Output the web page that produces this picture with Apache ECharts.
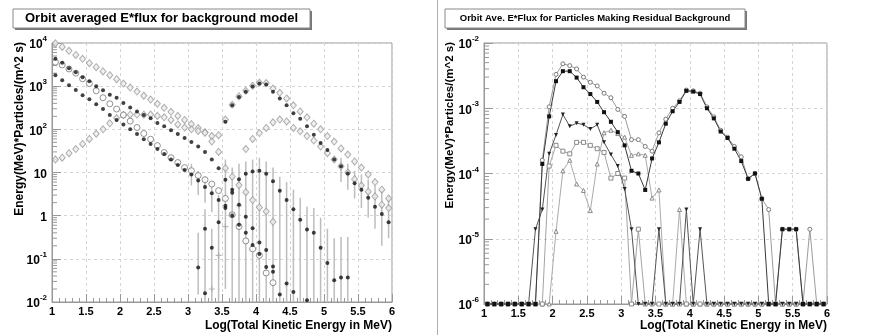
<!DOCTYPE html>
<html>
<head>
<meta charset="utf-8">
<script src="https://cdn.jsdelivr.net/npm/echarts@6/dist/echarts.min.js"></script>
<style>
  html, body { margin: 0; padding: 0; background: #fff; }
  #chart { width: 872px; height: 335px; }
</style>
</head>
<body>
<div id="chart"></div>
<script>
// bin centres, log10(total kinetic energy / MeV), 0.1 wide
const binCenters = [
  1.05, 1.15, 1.25, 1.35, 1.45, 1.55, 1.65, 1.75, 1.85, 1.95,
  2.05, 2.15, 2.25, 2.35, 2.45, 2.55, 2.65, 2.75, 2.85, 2.95,
  3.05, 3.15, 3.25, 3.35, 3.45, 3.55, 3.65, 3.75, 3.85, 3.95,
  4.05, 4.15, 4.25, 4.35, 4.45, 4.55, 4.65, 4.75, 4.85, 4.95,
  5.05, 5.15, 5.25, 5.35, 5.45, 5.55, 5.65, 5.75, 5.85, 5.95
];
const _ = null;

// ---- left pad : orbit averaged E*flux for background model ----
// grey open diamonds (total)
const bgTotal = [
  9800, 8100, 6600, 5300, 4300, 3400, 2750, 2200, 1800, 1450,
  1150, 930, 750, 600, 490, 390, 315, 255, 205, 165,
  132, 107, 86, 70, 73, 168, 370, 580, 780, 1020,
  1200, 1180, 880, 700, 520, 360, 260, 190, 135, 100,
  70, 52, 36, 26, 18, 13, 9, 6, 4, 2.5
];
// black dots, upper straight line
const bgBlackHigh = [
  4300, 3500, 2600, 2100, 1600, 1300, 1000, 800, 630, 540,
  410, 320, 260, 215, 180, 140, 118, 95, 78, 63,
  51, 40, 30, 20, 12.5, 6.8, 4, 1.8, 0.95, 0.51,
  0.24, 0.16, 0.066, 0.015, _, _, _, _, _, _,
  _, _, _, _, _, _, _, _, _, _
];
// black dots, lower straight line
const bgBlackLow = [
  1780, 1380, 1050, 810, 620, 500, 380, 295, 215, 165,
  130, 100, 78, 59, 46, 35, 27, 20, 15, 11.5,
  9, 6.5, 4.6, 3.3, 2.3, 1.7, 1.0, 0.62, 0.4, 0.21,
  0.13, 0.065, 0.05, _, _, _, _, _, _, _,
  _, _, _, _, _, _, _, _, _, _
];
// open circles
const bgCircle = [
  3600, 3100, 2500, 2000, 1480, 1150, 780, 540, 390, 295,
  215, 155, 110, 80, 59, 42, 29, 22, 17, 13,
  11, 8.5, 6.8, 5.4, 3.8, 2.5, 1.05, 0.56, 0.26, 0.17,
  0.12, 0.047, 0.028, _, _, _, _, _, _, _,
  _, _, _, _, _, _, _, _, _, _
];
// grey diamonds, rising then falling
const bgRise = [
  20, 22, 28, 35, 46, 60, 79, 100, 138, 182,
  215, 218, 220, 218, 220, 205, 190, 165, 130, 110,
  100, 92, 83, 52, 30, 12.6, 8, 5.1, 3.5, 2.3,
  1.55, 1.25, 0.72, _, _, _, _, _, _, _,
  _, _, _, _, _, _, _, _, _, _
];
// black dots, peak near 10^4 MeV
const bgPeak = [
  _, _, _, _, _, _, _, _, _, _,
  _, _, _, _, _, _, _, _, _, _,
  _, _, _, _, _, 150, 360, 560, 740, 980,
  1150, 1100, 740, 520, 360, 235, 175, 118, 75, 48,
  33, 20, 14, 9.5, 5.6, 4.0, 2.6, 1.6, 1.1, 0.7
];
// grey diamonds, second peak
const bgPeak2 = [
  _, _, _, _, _, _, _, _, _, _,
  _, _, _, _, _, _, _, _, _, _,
  _, _, _, _, _, _, _, _, 35, 60,
  82, 108, 145, 168, 152, 108, 90, 70, 55, 40,
  28, 20, 14, 10, 7, 5, 3.6, 2.8, 1.8, 1.5
];
// black dots with large errors
const bgHump = [
  _, _, _, _, _, _, _, _, _, _,
  _, _, _, _, _, _, _, _, _, _,
  _, 0.063, 0.5, 0.18, 0.7, 1.5, 3.4, 7, 9.3, 10.5,
  11, 9.3, 6.3, 3.8, 2.3, 1.4, 0.8, 0.48, 0.4, 0.18,
  0.08, 0.032, 0.037, 0.037, _, _, _, _, _, _
];
const bgSparse = [
  _, _, _, _, _, _, _, _, _, _,
  _, _, _, _, _, _, _, _, _, _,
  _, _, 0.016, _, _, _, _, _, _, _,
  _, _, _, _, 0.027, 0.017, _, 0.011, _, _,
  _, _, _, _, _, _, _, _, _, _
];
const bgCross = [
  _, _, _, _, _, _, _, _, _, _,
  _, _, _, _, _, _, _, _, _, _,
  _, _, _, 0.02, 0.12, 0.56, 1.1, 1.7, _, _,
  _, _, _, _, _, _, _, _, _, _,
  _, _, _, _, _, _, _, _, _, _
];
// grey error bars: [x, low, high]
const bgErrors = [
  [3.05, 5, 16], [3.15, 3, 11], [3.25, 2, 8], [3.35, 1.2, 6],
  [3.15, 0.015, 0.4], [3.25, 0.01, 1.4], [3.35, 0.01, 0.5], [3.45, 0.01, 3],
  [3.55, 0.02, 20], [3.65, 0.01, 13], [3.75, 0.01, 16], [3.85, 0.01, 18],
  [3.95, 0.01, 20], [4.05, 0.01, 22], [4.15, 0.01, 18], [4.25, 0.01, 13],
  [4.35, 0.01, 8], [4.45, 0.01, 6], [4.55, 0.01, 4], [4.65, 0.01, 2.6],
  [4.75, 0.01, 1.6], [4.85, 0.01, 1.5], [4.95, 0.01, 0.9], [5.05, 0.01, 0.5],
  [5.15, 0.01, 0.3], [5.25, 0.01, 0.32], [5.35, 0.01, 0.32],
  [5.25, 6, 22], [5.35, 4, 16], [5.45, 2.5, 11], [5.55, 1.5, 9],
  [5.65, 0.9, 7], [5.75, 0.5, 5], [5.85, 0.2, 4], [5.95, 0.3, 3]
];

// ---- right pad : particles making residual background (0 = empty bin) ----
const resTotal = [
  0, 0, 0, 0, 0, 0, 0, 0, 1.6e-4, 1.05e-3,
  3.3e-3, 4.8e-3, 4.5e-3, 4.0e-3, 3.0e-3, 2.5e-3, 2.2e-3, 1.7e-3, 1.45e-3, 9.6e-4,
  7.5e-4, 3.3e-4, 3.3e-4, 2.6e-4, 2.2e-4, 4.2e-4, 6.8e-4, 1.0e-3, 1.3e-3, 1.9e-3,
  1.85e-3, 1.7e-3, 1.05e-3, 7.4e-4, 4.6e-4, 3.6e-4, 2.6e-4, 1.8e-4, 8.3e-5, 1.0e-4,
  4.1e-5, 2.8e-5, 0, 1.4e-5, 1.4e-5, 1.4e-5, 0, 1.4e-5, 0, 0
];
const resSquareBlack = [
  0, 0, 0, 0, 0, 0, 0, 0, 1.4e-4, 7.5e-4,
  2.6e-3, 3.7e-3, 3.7e-3, 2.95e-3, 2.1e-3, 1.65e-3, 1.25e-3, 8.7e-4, 6.2e-4, 4.3e-4,
  2.7e-4, 1.1e-4, 1.0e-4, 5.6e-5, 1.7e-4, 3.0e-4, 5.8e-4, 9.0e-4, 1.25e-3, 1.85e-3,
  1.8e-3, 1.65e-3, 1.0e-3, 7.0e-4, 4.4e-4, 3.5e-4, 2.4e-4, 1.55e-4, 8.3e-5, 1.0e-4,
  4.1e-5, 0, 0, 1.4e-5, 1.4e-5, 1.4e-5, 0, 0, 0, 0
];
const resTriDown = [
  0, 0, 0, 0, 0, 0, 0, 1.4e-5, 2.8e-5, 2.0e-4,
  3.9e-4, 8.0e-4, 5.3e-4, 5.9e-4, 5.6e-4, 4.8e-4, 5.6e-4, 3.0e-4, 1.95e-4, 1.3e-4,
  5.8e-5, 1.4e-5, 0, 0, 0, 1.4e-5, 0, 0, 0, 2.8e-5,
  0, 1.4e-5, 0, 0, 0, 0, 0, 0, 0, 0,
  0, 0, 0, 0, 0, 0, 0, 0, 0, 0
];
const resSquareOpen = [
  0, 0, 0, 0, 0, 0, 0, 0, 0, 1.3e-4,
  2.7e-4, 2.2e-4, 2.0e-4, 3.0e-4, 3.0e-4, 2.7e-4, 2.4e-4, 2.1e-4, 8.5e-5, 1.0e-4,
  8.5e-5, 0, 1.4e-5, 0, 0, 0, 0, 0, 0, 0,
  0, 0, 0, 0, 0, 0, 0, 0, 0, 0,
  0, 0, 0, 0, 0, 0, 0, 0, 0, 0
];
const resTriUp = [
  0, 0, 0, 0, 0, 0, 0, 0, 0, 0,
  1.3e-5, 1.1e-4, 1.6e-4, 6.9e-5, 5.5e-5, 2.7e-5, 1.4e-4, 4.2e-4, 4.6e-4, 4.1e-4,
  3.6e-4, 1.9e-4, 2.0e-4, 1.9e-4, 4.2e-5, 5.6e-5, 0, 0, 2.8e-5, 0,
  0, 0, 0, 0, 0, 0, 0, 0, 0, 0,
  0, 0, 0, 0, 0, 0, 0, 0, 0, 0
];

const FONT = '"Liberation Sans", Arial, Helvetica, sans-serif';
const LEFT_MIN = 1e-2, LEFT_MAX = 1e4;
const RIGHT_MIN = 1e-6, RIGHT_MAX = 1e-2;

const pts = (arr) => binCenters.map((x, i) => [x, arr[i]]).filter(p => p[1] != null);
// empty bins sit on the bottom of the log axis, as ROOT draws them
const floorPts = (arr) => binCenters.map((x, i) => [x, arr[i] > 0 ? arr[i] : RIGHT_MIN]);

// minor ticks 2..9 in every decade
function minorTickValues(lo, hi) {
  const out = [];
  for (let d = lo; d < hi; d *= 10) {
    for (let m = 2; m <= 9; m++) out.push([1, m * d]);
  }
  return out;
}

function powLabel(v) {
  const e = Math.round(Math.log10(v));
  if (e === 0) return '{b|1}';
  if (e === 1) return '{b|10}';
  return '{b|10}{s|' + e + '}';
}

const labelRich = {
  b: { fontFamily: FONT, fontWeight: 'bold', fontSize: 12, color: '#000', lineHeight: 16, verticalAlign: 'bottom' },
  s: { fontFamily: FONT, fontWeight: 'bold', fontSize: 8, color: '#000', lineHeight: 9, verticalAlign: 'top' }
};

function xAxisFor(idx) {
  return {
    gridIndex: idx, type: 'value', min: 1, max: 6, interval: 0.5,
    axisLine: { show: true, lineStyle: { color: '#999', width: 1 } },
    axisTick: { show: true, inside: true, length: 8, lineStyle: { color: '#999' } },
    minorTick: { show: true, splitNumber: 5, length: 4, lineStyle: { color: '#999' } },
    splitLine: { show: true, lineStyle: { color: '#d4d4d4', type: [3, 3] } },
    axisLabel: {
      fontFamily: FONT, fontWeight: 'bold', fontSize: 11, color: '#000', margin: 4,
      formatter: (v) => String(v)
    }
  };
}

function yAxisFor(idx, min, max) {
  return {
    gridIndex: idx, type: 'log', logBase: 10, min: min, max: max,
    axisLine: { show: true, lineStyle: { color: '#999', width: 1 } },
    axisTick: { show: true, inside: true, length: 9, lineStyle: { color: '#999' } },
    splitLine: { show: true, lineStyle: { color: '#d4d4d4', type: [3, 3] } },
    axisLabel: { margin: 5, formatter: powLabel, rich: labelRich }
  };
}

function minorTickSeries(idx, lo, hi) {
  return {
    type: 'custom', xAxisIndex: idx, yAxisIndex: idx, silent: true, z: 1,
    data: minorTickValues(lo, hi),
    renderItem: (params, api) => {
      const p = api.coord([1, api.value(1)]);
      return { type: 'line', shape: { x1: p[0], y1: p[1], x2: p[0] + 5, y2: p[1] },
               style: { stroke: '#999', lineWidth: 1 } };
    }
  };
}

function leftScatter(arr, symbol, size, fill, stroke, z) {
  return {
    type: 'scatter', xAxisIndex: 0, yAxisIndex: 0, data: pts(arr),
    symbol: symbol, symbolSize: size, z: z || 3,
    itemStyle: { color: fill, borderColor: stroke, borderWidth: stroke ? 1 : 0 }
  };
}

function rightLine(arr, symbol, size, fill, stroke, lineColor, extra) {
  return Object.assign({
    type: 'line', xAxisIndex: 1, yAxisIndex: 1, data: floorPts(arr),
    symbol: symbol, symbolSize: size, showAllSymbol: true, clip: false,
    lineStyle: { color: lineColor, width: 1 },
    itemStyle: { color: fill, borderColor: stroke, borderWidth: stroke ? 1 : 0 }
  }, extra || {});
}

const chart = echarts.init(document.getElementById('chart'), null, { renderer: 'canvas' });

chart.setOption({
  animation: false,
  backgroundColor: '#fff',
  grid: [
    { left: 52, top: 43, width: 340, height: 259, show: true, borderColor: '#999', borderWidth: 1 },
    { left: 484, top: 43, width: 343, height: 261, show: true, borderColor: '#999', borderWidth: 1 }
  ],
  xAxis: [xAxisFor(0), xAxisFor(1)],
  yAxis: [yAxisFor(0, LEFT_MIN, LEFT_MAX), yAxisFor(1, RIGHT_MIN, RIGHT_MAX)],
  series: [
    minorTickSeries(0, LEFT_MIN, LEFT_MAX),
    minorTickSeries(1, RIGHT_MIN, RIGHT_MAX),
    {
      type: 'custom', xAxisIndex: 0, yAxisIndex: 0, silent: true, z: 2,
      data: bgErrors,
      encode: { x: 0, y: [1, 2] },
      renderItem: (params, api) => {
        const a = api.coord([api.value(0), api.value(1)]);
        const b = api.coord([api.value(0), api.value(2)]);
        return { type: 'line', shape: { x1: a[0], y1: a[1], x2: b[0], y2: b[1] },
                 style: { stroke: '#bdbdbd', lineWidth: 1.5 } };
      }
    },
    leftScatter(bgTotal, 'diamond', [6, 7], '#ececec', '#9a9a9a'),
    leftScatter(bgRise, 'diamond', [6, 7], '#ececec', '#9a9a9a'),
    leftScatter(bgPeak2, 'diamond', [6, 7], '#ececec', '#9a9a9a'),
    leftScatter(bgCircle, 'circle', 6, '#fff', '#777'),
    leftScatter(bgBlackHigh, 'circle', 4, '#111', null, 4),
    leftScatter(bgBlackLow, 'circle', 4, '#111', null, 4),
    leftScatter(bgPeak, 'circle', 4, '#111', null, 4),
    leftScatter(bgHump, 'circle', 4, '#111', null, 4),
    leftScatter(bgSparse, 'circle', 4, '#111', null, 4),
    leftScatter(bgCross, 'path://M4,0H6V4H10V6H6V10H4V6H0V4H4Z', 6, '#a8a8a8', null),

    rightLine(resTriUp, 'triangle', 4, '#fff', '#8a8a8a', '#ababab'),
    rightLine(resSquareOpen, 'rect', 4, '#fff', '#8a8a8a', '#a4a4a4'),
    rightLine(resTotal, 'circle', 4, '#fff', '#7a7a7a', '#9c9c9c'),
    rightLine(resTriDown, 'triangle', 4, '#222', null, '#555', { symbolRotate: 180 }),
    rightLine(resSquareBlack, 'rect', 4, '#111', null, '#3a3a3a')
  ],
  graphic: [
    { type: 'line', shape: { x1: 437.5, y1: 0, x2: 437.5, y2: 335 }, style: { stroke: '#b0b0b0', lineWidth: 1 } },
    // title boxes (ROOT style with drop shadow)
    { type: 'rect', shape: { x: 15, y: 11, width: 297, height: 19 }, style: { fill: '#777' } },
    { type: 'rect', shape: { x: 13, y: 9, width: 297, height: 19 }, style: { fill: '#fff', stroke: '#888', lineWidth: 1 } },
    { type: 'text', x: 161.5, y: 18.5, style: { text: 'Orbit averaged E*flux for background model', font: 'bold 13px ' + FONT, fill: '#000', align: 'center', verticalAlign: 'middle' } },
    { type: 'rect', shape: { x: 447, y: 11, width: 300, height: 19 }, style: { fill: '#777' } },
    { type: 'rect', shape: { x: 445, y: 9, width: 300, height: 19 }, style: { fill: '#fff', stroke: '#888', lineWidth: 1 } },
    { type: 'text', x: 595, y: 18.5, style: { text: 'Orbit Ave. E*Flux for Particles Making Residual Background', font: 'bold 9.5px ' + FONT, fill: '#000', align: 'center', verticalAlign: 'middle' } },
    // axis titles
    { type: 'text', x: 20, y: 42, rotation: Math.PI / 2, style: { text: 'Energy(MeV)*Particles/(m^2 s)', font: 'bold 12px ' + FONT, fill: '#000', align: 'right', verticalAlign: 'middle' } },
    { type: 'text', x: 450, y: 42, rotation: Math.PI / 2, style: { text: 'Energy(MeV)*Particles/(m^2 s)', font: 'bold 11.5px ' + FONT, fill: '#000', align: 'right', verticalAlign: 'middle' } },
    { type: 'text', x: 392, y: 326, style: { text: 'Log(Total Kinetic Energy in MeV)', font: 'bold 12px ' + FONT, fill: '#000', align: 'right', verticalAlign: 'middle' } },
    { type: 'text', x: 827, y: 326, style: { text: 'Log(Total Kinetic Energy in MeV)', font: 'bold 12px ' + FONT, fill: '#000', align: 'right', verticalAlign: 'middle' } }
  ]
});
</script>
</body>
</html>
